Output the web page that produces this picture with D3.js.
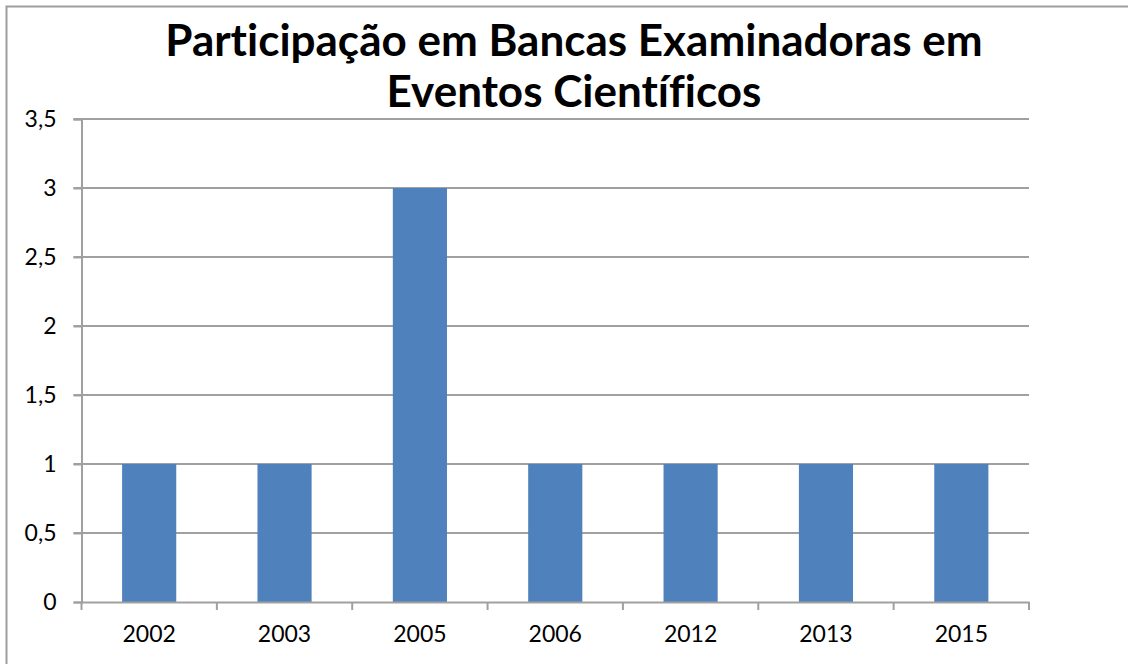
<!DOCTYPE html>
<html lang="pt">
<head>
  <meta charset="UTF-8">
  <title>Participação em Bancas Examinadoras</title>
  <script src="https://d3js.org/d3.v7.min.js"></script>
  <style>
    body { margin: 0; background: #fff; }
    svg { display: block; font-family: Lato, "Open Sans", sans-serif; font-variant-ligatures: none; }
  </style>
</head>
<body>
<svg id="chart" width="1128" height="664"></svg>
<script>
// dados
const years = ["2002", "2003", "2005", "2006", "2012", "2013", "2015"];
const counts = [1, 1, 3, 1, 1, 1, 1];
const yTicks = [0, 0.5, 1, 1.5, 2, 2.5, 3, 3.5];
const titleLines = ["Participação em Bancas Examinadoras em", "Eventos Científicos"];

const svg = d3.select("#chart");
const margin = {top: 119, right: 99, bottom: 62, left: 81.5};
const W = +svg.attr("width"), H = +svg.attr("height");

// moldura
svg.append("rect")
  .attr("x", 6.5).attr("y", 6.5)
  .attr("width", 1200).attr("height", 1200)
  .attr("fill", "none").attr("stroke", "#9d9d9d").attr("stroke-width", 2);

const x = d3.scaleBand().domain(years)
  .range([margin.left, W - margin.right]).paddingInner(0.6).paddingOuter(0.3);
const xb = d3.scaleBand().domain(years).range([margin.left, W - margin.right]);
const y = d3.scaleLinear().domain([0, 3.5]).range([H - margin.bottom, margin.top]);

// grade
svg.append("g").selectAll("line")
  .data(yTicks.filter(d => d > 0))
  .join("line")
  .attr("x1", margin.left - 8).attr("x2", W - margin.right)
  .attr("y1", d => y(d)).attr("y2", d => y(d))
  .attr("stroke", "#a0a0a0").attr("stroke-width", 2);

// barras
svg.append("g").selectAll("rect")
  .data(counts)
  .join("rect")
  .attr("x", (d, i) => x(years[i]))
  .attr("width", x.bandwidth())
  .attr("y", d => y(d))
  .attr("height", d => y(0) - y(d))
  .attr("fill", "#4f81bd");

// eixo y
const yAxis = svg.append("g")
  .attr("transform", `translate(${margin.left},0)`)
  .call(d3.axisLeft(y).tickValues(yTicks).tickSize(8).tickPadding(17)
    .tickFormat(d => String(d).replace(".", ",")));
yAxis.select(".domain").attr("stroke", "#a0a0a0").attr("stroke-width", 2);
yAxis.selectAll(".tick line").attr("stroke", "#a0a0a0").attr("stroke-width", 2);
yAxis.selectAll(".tick text").attr("font-size", 23).attr("fill", "#000")
  .attr("font-family", "Lato, sans-serif");

// eixo x
const xAxis = svg.append("g")
  .attr("transform", `translate(0,${y(0)})`)
  .call(d3.axisBottom(xb).tickSize(0).tickPadding(24));
xAxis.select(".domain").attr("stroke", "#a0a0a0").attr("stroke-width", 2);
xAxis.selectAll(".tick text").attr("font-size", 23).attr("fill", "#000")
  .attr("font-family", "Lato, sans-serif");
// marcas entre categorias
svg.append("g").selectAll("line")
  .data(years.concat(["end"]))
  .join("line")
  .attr("x1", (d, i) => i < years.length ? xb(d) : xb.range()[1])
  .attr("x2", (d, i) => i < years.length ? xb(d) : xb.range()[1])
  .attr("y1", y(0)).attr("y2", y(0) + 8)
  .attr("stroke", "#a0a0a0").attr("stroke-width", 2);

// título
svg.append("text")
  .attr("text-anchor", "middle")
  .attr("font-size", 44).attr("font-weight", "bold")
  .selectAll("tspan")
  .data(titleLines)
  .join("tspan")
  .attr("x", 574)
  .attr("y", (d, i) => 56 + i * 51)
  .text(d => d);
</script>
</body>
</html>
